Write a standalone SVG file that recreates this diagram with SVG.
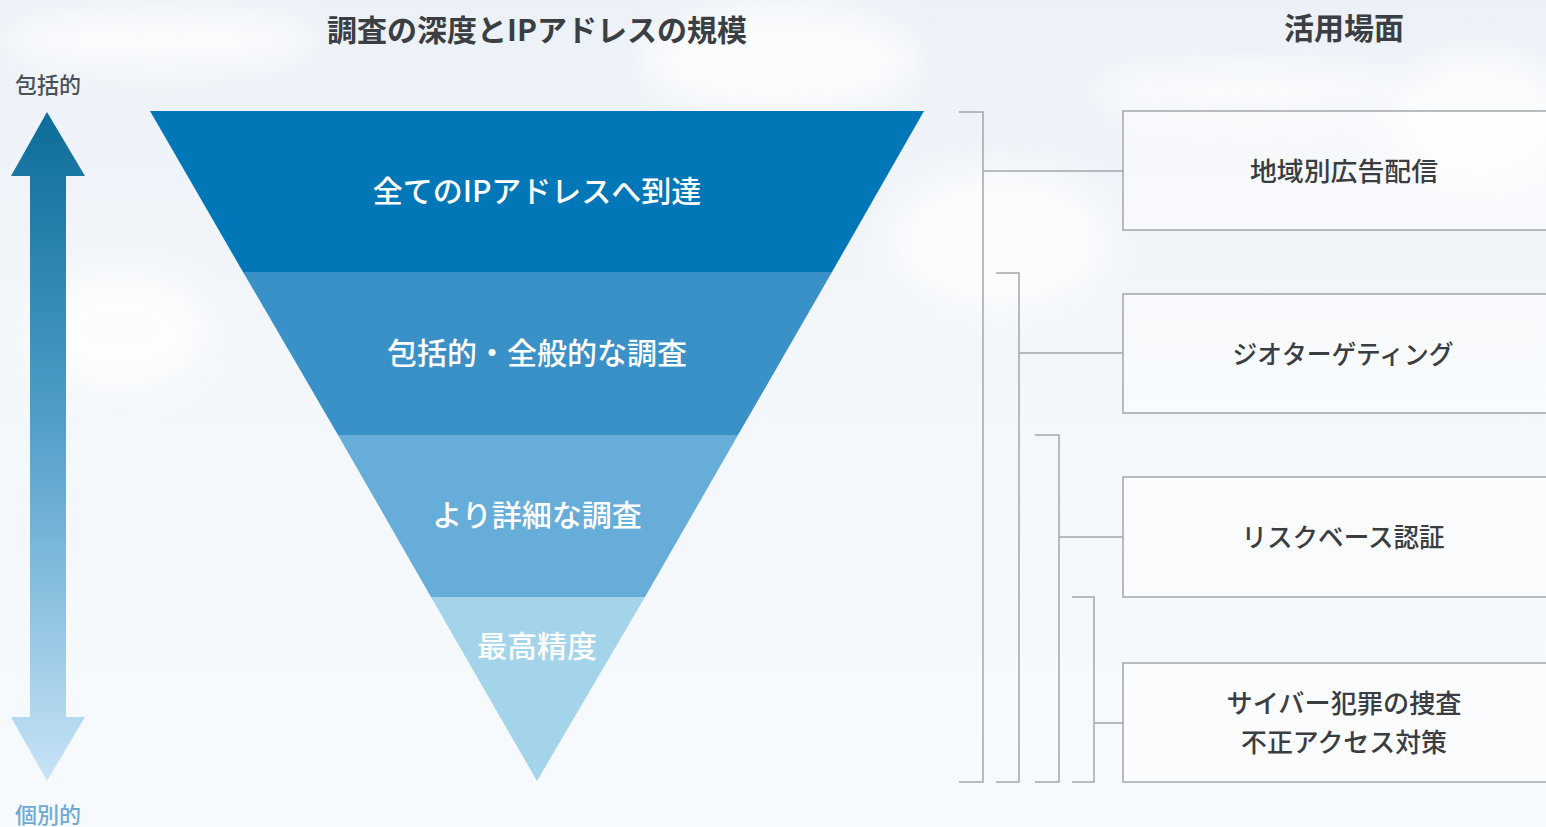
<svg xmlns="http://www.w3.org/2000/svg" width="1546" height="827" viewBox="0 0 1546 827">
<defs>
<linearGradient id="bg" x1="0" y1="0" x2="0" y2="1">
<stop offset="0" stop-color="#ECF1F8"/>
<stop offset="0.45" stop-color="#F3F7FB"/>
<stop offset="1" stop-color="#F7FAFD"/>
</linearGradient>
<linearGradient id="arr" x1="0" y1="0" x2="0" y2="1">
<stop offset="0" stop-color="#0D6C99"/>
<stop offset="0.45" stop-color="#4E9DC8"/>
<stop offset="1" stop-color="#C8E4F7"/>
</linearGradient>
<filter id="blur" x="-50%" y="-50%" width="200%" height="200%">
<feGaussianBlur stdDeviation="18"/>
</filter>
<style>
.hd{font-family:"Noto Sans CJK JP","Noto Sans",sans-serif;font-weight:700;font-size:30px;fill:#3B3E42;text-anchor:middle}
.tri{font-family:"Noto Sans CJK JP","Noto Sans",sans-serif;font-weight:500;font-size:30px;fill:#FFFFFF;text-anchor:middle}
.bx{font-family:"Noto Sans CJK JP","Noto Sans",sans-serif;font-weight:500;font-size:26px;fill:#3A3D41;text-anchor:middle}
.side{font-family:"Noto Sans CJK JP","Noto Sans",sans-serif;font-weight:500;font-size:22px;text-anchor:middle}
.box{fill:#FFFFFF;fill-opacity:0.45;stroke:#A2A6AA;stroke-width:1.5}
.ln{fill:none;stroke:#A2A6AA;stroke-width:1.5}
</style>
</defs>
<rect width="1546" height="827" fill="url(#bg)"/>
<g id="clouds" fill="#FFFFFF" filter="url(#blur)" opacity="0.75">
<ellipse cx="780" cy="60" rx="140" ry="55"/>
<ellipse cx="1000" cy="240" rx="110" ry="70"/>
<ellipse cx="1480" cy="120" rx="90" ry="70"/>
<ellipse cx="160" cy="40" rx="160" ry="30"/>
<ellipse cx="120" cy="330" rx="90" ry="60"/>
<ellipse cx="1250" cy="90" rx="160" ry="25"/>
</g>
<g id="title-left"><text class="hd" x="537" y="41">調査の深度とIPアドレスの規模</text></g>
<g id="title-right"><text class="hd" x="1344" y="39">活用場面</text></g>
<g id="scale-arrow">
<text class="side" x="48" y="93" fill="#4A5057">包括的</text>
<polygon points="47,112 85,176 66,176 66,717 85,717 47,781 11,717 30,717 30,176 11,176" fill="url(#arr)"/>
<text class="side" x="48" y="823" fill="#6EA9D6">個別的</text>
</g>
<g id="funnel">
<g id="band1"><polygon points="150,111 924,111 832,272 243,272" fill="#0277B7"/><text class="tri" x="537" y="202">全てのIPアドレスへ到達</text></g>
<g id="band2"><polygon points="243,272 832,272 738,435 338,435" fill="#3A91C7"/><text class="tri" x="537" y="364">包括的・全般的な調査</text></g>
<g id="band3"><polygon points="338,435 738,435 645,597 431,597" fill="#66ADD9"/><text class="tri" x="537" y="526">より詳細な調査</text></g>
<g id="band4"><polygon points="431,597 645,597 537,781" fill="#A4D4EA"/><text class="tri" x="537" y="657">最高精度</text></g>
</g>
<g id="connectors">
<path class="ln" d="M959,112 H983 V782 H959 M983,171 H1123"/>
<path class="ln" d="M996,273 H1019 V782 H996 M1019,353 H1123"/>
<path class="ln" d="M1035,435 H1059 V782 H1035 M1059,537 H1123"/>
<path class="ln" d="M1072,597 H1094 V782 H1072 M1094,723 H1123"/>
</g>
<g id="box1"><rect class="box" x="1123" y="111" width="440" height="119"/><text class="bx" x="1344" y="181" textLength="188" lengthAdjust="spacingAndGlyphs">地域別広告配信</text></g>
<g id="box2"><rect class="box" x="1123" y="294" width="440" height="119"/><text class="bx" x="1343" y="364" textLength="221" lengthAdjust="spacingAndGlyphs">ジオターゲティング</text></g>
<g id="box3"><rect class="box" x="1123" y="477" width="440" height="120"/><text class="bx" x="1343" y="547" textLength="203" lengthAdjust="spacingAndGlyphs">リスクベース認証</text></g>
<g id="box4"><rect class="box" x="1123" y="663" width="440" height="119"/><text class="bx" x="1344" y="713" textLength="235" lengthAdjust="spacingAndGlyphs">サイバー犯罪の捜査</text><text class="bx" x="1344" y="752" textLength="206" lengthAdjust="spacingAndGlyphs">不正アクセス対策</text></g>
</svg>
